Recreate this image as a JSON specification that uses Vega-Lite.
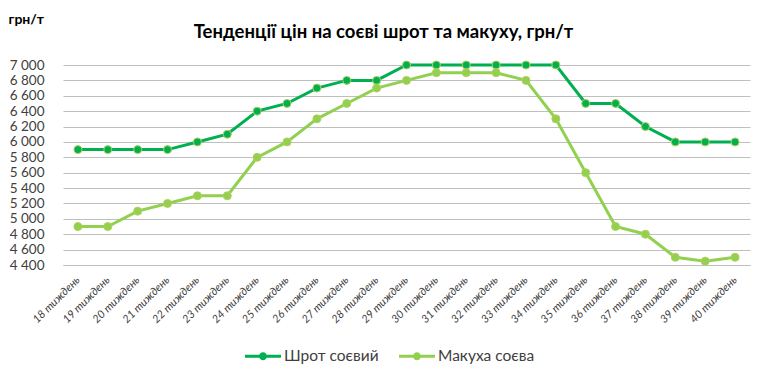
{
  "$schema": "https://vega.github.io/schema/vega-lite/v6.json",
  "width": 687,
  "height": 200,
  "autosize": {"type": "none"},
  "padding": {"left": 63, "top": 65, "right": 18, "bottom": 117},
  "background": "white",
  "title": {
    "text": "Тенденції цін на соєві шрот та макуху, грн/т",
    "fontSize": 18.5,
    "fontWeight": "bold",
    "font": "Lato",
    "color": "#000000",
    "anchor": "middle",
    "dx": -23,
    "offset": -29
  },
  "data": {
    "values": [
      {"w": "18 тиждень", "s": "Шрот соєвий", "v": 5900},
      {"w": "19 тиждень", "s": "Шрот соєвий", "v": 5900},
      {"w": "20 тиждень", "s": "Шрот соєвий", "v": 5900},
      {"w": "21 тиждень", "s": "Шрот соєвий", "v": 5900},
      {"w": "22 тиждень", "s": "Шрот соєвий", "v": 6000},
      {"w": "23 тиждень", "s": "Шрот соєвий", "v": 6100},
      {"w": "24 тиждень", "s": "Шрот соєвий", "v": 6400},
      {"w": "25 тиждень", "s": "Шрот соєвий", "v": 6500},
      {"w": "26 тиждень", "s": "Шрот соєвий", "v": 6700},
      {"w": "27 тиждень", "s": "Шрот соєвий", "v": 6800},
      {"w": "28 тиждень", "s": "Шрот соєвий", "v": 6800},
      {"w": "29 тиждень", "s": "Шрот соєвий", "v": 7000},
      {"w": "30 тиждень", "s": "Шрот соєвий", "v": 7000},
      {"w": "31 тиждень", "s": "Шрот соєвий", "v": 7000},
      {"w": "32 тиждень", "s": "Шрот соєвий", "v": 7000},
      {"w": "33 тиждень", "s": "Шрот соєвий", "v": 7000},
      {"w": "34 тиждень", "s": "Шрот соєвий", "v": 7000},
      {"w": "35 тиждень", "s": "Шрот соєвий", "v": 6500},
      {"w": "36 тиждень", "s": "Шрот соєвий", "v": 6500},
      {"w": "37 тиждень", "s": "Шрот соєвий", "v": 6200},
      {"w": "38 тиждень", "s": "Шрот соєвий", "v": 6000},
      {"w": "39 тиждень", "s": "Шрот соєвий", "v": 6000},
      {"w": "40 тиждень", "s": "Шрот соєвий", "v": 6000},
      {"w": "18 тиждень", "s": "Макуха соєва", "v": 4900},
      {"w": "19 тиждень", "s": "Макуха соєва", "v": 4900},
      {"w": "20 тиждень", "s": "Макуха соєва", "v": 5100},
      {"w": "21 тиждень", "s": "Макуха соєва", "v": 5200},
      {"w": "22 тиждень", "s": "Макуха соєва", "v": 5300},
      {"w": "23 тиждень", "s": "Макуха соєва", "v": 5300},
      {"w": "24 тиждень", "s": "Макуха соєва", "v": 5800},
      {"w": "25 тиждень", "s": "Макуха соєва", "v": 6000},
      {"w": "26 тиждень", "s": "Макуха соєва", "v": 6300},
      {"w": "27 тиждень", "s": "Макуха соєва", "v": 6500},
      {"w": "28 тиждень", "s": "Макуха соєва", "v": 6700},
      {"w": "29 тиждень", "s": "Макуха соєва", "v": 6800},
      {"w": "30 тиждень", "s": "Макуха соєва", "v": 6900},
      {"w": "31 тиждень", "s": "Макуха соєва", "v": 6900},
      {"w": "32 тиждень", "s": "Макуха соєва", "v": 6900},
      {"w": "33 тиждень", "s": "Макуха соєва", "v": 6800},
      {"w": "34 тиждень", "s": "Макуха соєва", "v": 6300},
      {"w": "35 тиждень", "s": "Макуха соєва", "v": 5600},
      {"w": "36 тиждень", "s": "Макуха соєва", "v": 4900},
      {"w": "37 тиждень", "s": "Макуха соєва", "v": 4800},
      {"w": "38 тиждень", "s": "Макуха соєва", "v": 4500},
      {"w": "39 тиждень", "s": "Макуха соєва", "v": 4450},
      {"w": "40 тиждень", "s": "Макуха соєва", "v": 4500}
    ]
  },
  "encoding": {
    "x": {
      "field": "w",
      "type": "ordinal",
      "sort": null,
      "scale": {"type": "point", "padding": 0.5},
      "axis": {
        "title": null,
        "labelAngle": -45,
        "labelAlign": "right",
        "labelBaseline": "middle",
        "labelFont": "Lato",
        "labelFontSize": 11,
        "labelFontStyle": "italic",
        "labelColor": "#404040",
        "labelPadding": 13,
        "ticks": false,
        "domain": true,
        "domainColor": "#bfbfbf",
        "grid": false
      }
    },
    "y": {
      "field": "v",
      "type": "quantitative",
      "scale": {"domain": [4400, 7000], "nice": false, "zero": false},
      "axis": {
        "values": [4400, 4600, 4800, 5000, 5200, 5400, 5600, 5800, 6000, 6200, 6400, 6600, 6800, 7000],
        "labelExpr": "replace(format(datum.value, ','), ',', ' ')",
        "labelFont": "Lato",
        "labelFontSize": 13.5,
        "labelColor": "#404040",
        "labelPadding": 19,
        "ticks": false,
        "domain": false,
        "grid": true,
        "gridColor": "#bfbfbf",
        "gridWidth": 1,
        "title": "грн/т",
        "titleAngle": 0,
        "titleAlign": "left",
        "titleBaseline": "top",
        "titleX": -55,
        "titleY": -53,
        "titleFont": "Lato",
        "titleFontSize": 14,
        "titleFontWeight": "bold",
        "titleColor": "#000000"
      }
    },
    "color": {
      "field": "s",
      "type": "nominal",
      "sort": ["Шрот соєвий", "Макуха соєва"],
      "scale": {"domain": ["Шрот соєвий", "Макуха соєва"], "range": ["#00b050", "#92d050"]},
      "legend": {
        "title": null,
        "orient": "none",
        "direction": "horizontal",
        "legendX": 182,
        "legendY": 273,
        "symbolType": "M-1,-0.083H1V0.083H-1Z M0.22,0 A0.22,0.22 0 1,1 -0.22,0 A0.22,0.22 0 1,1 0.22,0Z",
        "symbolSize": 1296,
        "symbolStrokeWidth": 0,
        "symbolOpacity": 1,
        "labelFont": "Lato",
        "labelFontSize": 15.5,
        "labelColor": "#404040",
        "labelOffset": 3,
        "columnPadding": 20
      }
    }
  },
  "layer": [
    {
      "mark": {"type": "line", "strokeWidth": 3}
    },
    {
      "mark": {"type": "point", "filled": true, "size": 64, "opacity": 1, "stroke": "#b3cf5a", "strokeWidth": 1}
    }
  ],
  "config": {
    "view": {"stroke": null},
    "font": "Lato"
  }
}
